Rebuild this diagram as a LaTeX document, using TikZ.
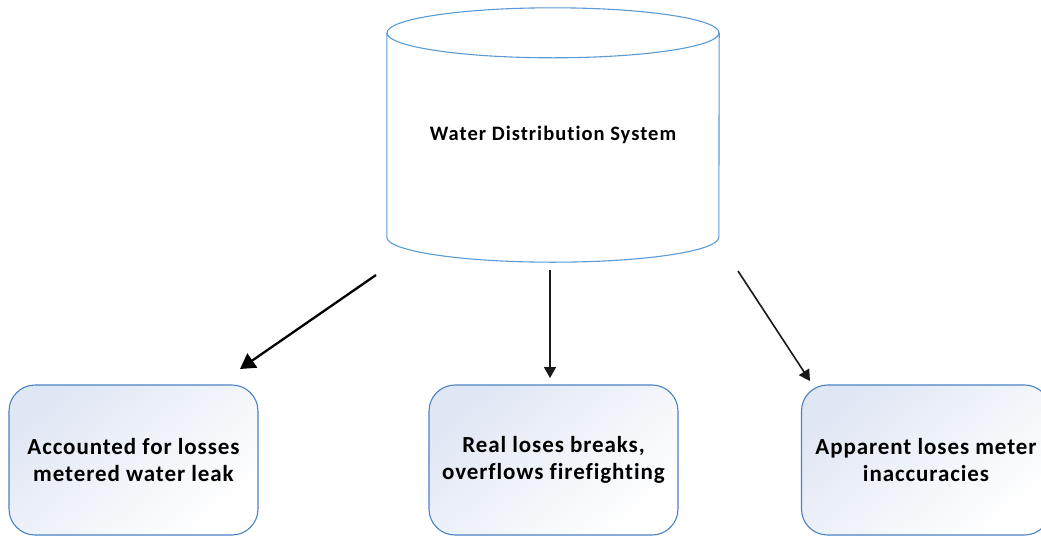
\documentclass[tikz,border=0pt]{standalone}
\usepackage{fontspec}
\setmainfont{Carlito}
\newfontfamily\boxlabelfont{Carlito}[LetterSpace=4,Ligatures=NoCommon]
\newfontfamily\tanklabelfont{Carlito}[LetterSpace=5,Ligatures=NoCommon]
\usetikzlibrary{arrows.meta,calc}
\definecolor{tankblue}{HTML}{5B9BD5}
\definecolor{boxblue}{HTML}{4A82C4}
\definecolor{boxtint}{HTML}{E0E7F4}

\tikzset{
  tankline/.style={draw=tankblue, line width=1.1pt},
  lossbox/.style={draw=boxblue, line width=1.1pt, rounded corners=26pt,
    top color=boxtint, bottom color=white, shading angle=40,
    minimum width=249pt, minimum height=150pt, inner sep=0pt,
    align=center, font=\boxlabelfont\bfseries\fontsize{23}{27}\selectfont},
  flow/.style={draw=black!90, line width=1.6pt,
    -{Triangle[length=11pt,width=12pt]}},
  bigflow/.style={draw=black, line width=2.3pt,
    -{Triangle[length=15pt,width=17pt]}},
}

\begin{document}
\begin{tikzpicture}[x=1pt,y=1pt]
  \useasboundingbox (0,0) rectangle (1041,-536);
  \clip (0,0) rectangle (1041,-536);
  \fill[white] (0,0) rectangle (1041,-536);

  % storage tank: body node plus its outline
  \node[minimum width=332pt, minimum height=204pt, inner sep=0pt,
        font=\tanklabelfont\bfseries\fontsize{20.5}{24}\selectfont]
    (tank) at (553,-135) {Water Distribution System};
  \draw[tankline] (tank.north west) -- (tank.south west)
    arc[start angle=180, end angle=360, x radius=166pt, y radius=25pt]
    -- (tank.north east);
  \draw[tankline, fill=white] (tank.north) ellipse [x radius=166pt, y radius=25pt];

  % loss categories
  \node[lossbox] (acc) at (133.5,-460) {Accounted for losses\\metered water leak};
  \node[lossbox] (real) at (553.5,-460) {Real loses breaks,\\overflows firefighting};
  \node[lossbox] (app) at (926,-460) {Apparent loses meter\\inaccuracies};

  % connector ends
  \coordinate (accfrom) at (376,-275);
  \coordinate (accto) at (240,-369);
  \coordinate (realfrom) at (550,-270);
  \coordinate (realto) at (550,-378);
  \coordinate (appfrom) at (738,-271);
  \coordinate (appto) at (810,-381);

  \draw[bigflow] (accfrom) -- (accto);
  \draw[flow] (realfrom) -- (realto);
  \draw[flow] (appfrom) -- (appto);
\end{tikzpicture}
\end{document}
